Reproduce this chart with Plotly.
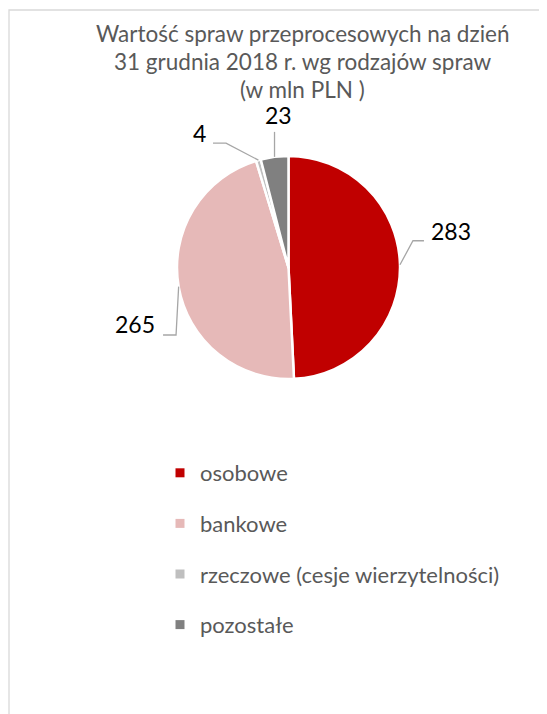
import math
import plotly.graph_objects as go

# ---- data ----
categories = ["osobowe", "bankowe", "rzeczowe (cesje wierzytelności)", "pozostałe"]
values = [283, 265, 4, 23]
title_lines = ["Wartość spraw przeprocesowych na dzień", "31 grudnia 2018 r. wg rodzajów spraw", "(w mln PLN )"]

# ---- style ----
colors = ["#C00000", "#E6B9B8", "#BFBFBF", "#808080"]
OFF = 8  # default body margin of the html page
W, H = 547 - OFF, 714 - OFF
CX, CY, R = 288.5, 267.5, 111.5  # pie centre / radius in window px
FONT = "Lato"
GRAY_TXT = "#595959"
LEADER = "#A6A6A6"
TITLE_X, TITLE_Y0, TITLE_DY = 302.5, 34, 27.7

# label leader geometry: offsets (px) of elbow & end relative to slice edge point, label anchor
label_style = [
    dict(pts=[(13, -24), (24, -24)], txt=(29, -34), xa="left"),
    dict(pts=[(-2.6, 48.4), (-15.6, 48.4)], txt=(-21.6, 37.4), xa="right"),
    dict(pts=[(-32.4, -17), (-45.4, -17)], txt=(-50.4, -27), xa="right"),
    dict(pts=[(0, -25)], txt=(4, -42), xa="center"),
]


def px2paper(x, y):
    return (x - OFF) / W, 1 - (y - OFF) / H


fig = go.Figure()
dx0, dy1 = px2paper(CX - R, CY + R)
dx1, dy0 = px2paper(CX + R, CY - R)
fig.add_trace(go.Pie(
    labels=categories, values=values, sort=False, direction="clockwise", rotation=0,
    marker=dict(colors=colors, line=dict(color="white", width=2.5)),
    textinfo="none", hoverinfo="label+value", showlegend=False,
    domain=dict(x=[dx0, dx1], y=[dy1, dy0]),
))

# legend entries (one per category, same colours)
for i, (c, col) in enumerate(zip(categories, colors)):
    fig.add_trace(go.Scatter(
        x=[None], y=[None], mode="markers", name=c, legendgroup=f"g{i}",
        marker=dict(symbol="square", size=9, color=col), hoverinfo="skip",
    ))

# leader lines + value labels computed from slice angles
total = sum(values)
shapes = []
annotations = []
cum = 0
for v, st in zip(values, label_style):
    mid = (cum + v / 2) / total * 2 * math.pi
    cum += v
    ex = CX + R * math.sin(mid)
    ey = CY - R * math.cos(mid)
    pts = [(ex, ey)] + [(ex + dx, ey + dy) for dx, dy in st["pts"]]
    path = ""
    for k, (x, y) in enumerate(pts):
        px_, py_ = px2paper(x, y)
        path += ("M" if k == 0 else " L") + f" {px_:.5f},{py_:.5f}"
    shapes.append(dict(type="path", xref="paper", yref="paper", path=path,
                       line=dict(color=LEADER, width=1.3)))
    tx, ty = px2paper(ex + st["txt"][0], ey + st["txt"][1])
    annotations.append(dict(x=tx, y=ty, xref="paper", yref="paper", text=str(v), showarrow=False,
                            xanchor=st["xa"], yanchor="middle",
                            font=dict(family=FONT, size=23, color="#000000")))

# chart title (one annotation per line for tighter line spacing)
for i, line in enumerate(title_lines):
    tx, ty = px2paper(TITLE_X, TITLE_Y0 + i * TITLE_DY)
    annotations.append(dict(x=tx, y=ty, xref="paper", yref="paper", text=line,
                            showarrow=False, xanchor="center", yanchor="middle",
                            font=dict(family=FONT, size=22.5, color=GRAY_TXT)))

# chart frame
x0, y0 = px2paper(9, 10)
shapes.append(dict(type="rect", xref="paper", yref="paper", x0=x0, y0=y0, x1=1.05, y1=-0.05,
                   line=dict(color="#D9D9D9", width=1.3), fillcolor="rgba(0,0,0,0)", layer="below"))

lx, ly = px2paper(160, 452)
fig.update_layout(
    width=W, height=H, margin=dict(l=0, r=0, t=0, b=0),
    paper_bgcolor="white", plot_bgcolor="white",
    xaxis=dict(visible=False), yaxis=dict(visible=False),
    legend=dict(x=lx, y=ly, xanchor="left", yanchor="top",
                traceorder="grouped", tracegroupgap=19, itemwidth=30,
                font=dict(family=FONT, size=22, color=GRAY_TXT), bgcolor="rgba(0,0,0,0)"),
    shapes=shapes, annotations=annotations,
)

fig.write_html("out.html")
